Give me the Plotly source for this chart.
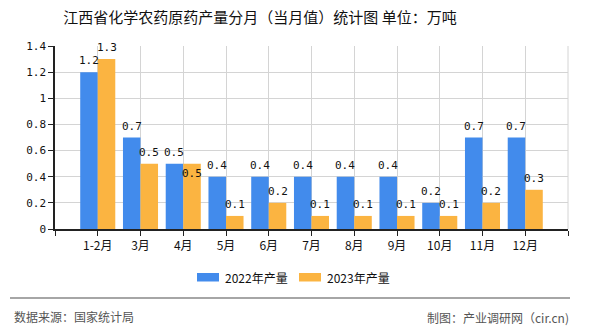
import plotly.graph_objects as go

categories = ["1-2月", "3月", "4月", "5月", "6月", "7月", "8月", "9月", "10月", "11月", "12月"]
series_names = ["2022年产量", "2023年产量"]
values_2022 = [1.2, 0.7, 0.5, 0.4, 0.4, 0.4, 0.4, 0.4, 0.2, 0.7, 0.7]
values_2023 = [1.3, 0.5, 0.5, 0.1, 0.2, 0.1, 0.1, 0.1, 0.1, 0.2, 0.3]
y_ticks = [0, 0.2, 0.4, 0.6, 0.8, 1, 1.2, 1.4]
y_ticktext = ["0", "0.2", "0.4", "0.6", "0.8", "1", "1.2", "1.4"]
title_text = "江西省化学农药原药产量分月（当月值）统计图 单位：万吨"
source_text = "数据来源：国家统计局"
credit_text = "制图：产业调研网（cir.cn)"

W, H = 590, 330
L, R, T, B = 55, 568, 46, 229

def px_x(px):
    return (px - L) / (R - L)

def px_y(py):
    return (B - py) / (B - T)

BLUE = "#428BEC"
ORANGE = "#FBB441"
CJK = "Noto Sans CJK SC"
MONO = "DejaVu Sans Mono"

n = len(categories)
xs = list(range(n))

fig = go.Figure()
fig.add_trace(go.Bar(x=xs, y=values_2022, name=series_names[0], marker_color=BLUE,
                     marker_line_width=0, showlegend=False))
fig.add_trace(go.Bar(x=xs, y=values_2023, name=series_names[1], marker_color=ORANGE,
                     marker_line_width=0, showlegend=False))

half = 0.41 / 2
annotations = []
for i in xs:
    annotations.append(dict(x=i - half, y=values_2022[i], xref="x", yref="y",
                            text=str(values_2022[i]), showarrow=False,
                            yanchor="bottom", yshift=3,
                            font=dict(family=MONO, size=11, color="#111")))
    inside = values_2023[i] == values_2022[i]
    annotations.append(dict(x=i + half, y=values_2023[i], xref="x", yref="y",
                            text=str(values_2023[i]), showarrow=False,
                            yanchor="top" if inside else "bottom",
                            yshift=-1 if inside else 3,
                            font=dict(family=MONO, size=11, color="#111")))

annotations.append(dict(x=px_x(12), y=px_y(316), xref="paper", yref="paper",
                        text=source_text, showarrow=False, xanchor="left", yanchor="middle",
                        font=dict(family=CJK, size=12, color="#555")))
annotations.append(dict(x=px_x(571), y=px_y(317), xref="paper", yref="paper",
                        text=credit_text, showarrow=False, xanchor="right", yanchor="middle",
                        font=dict(family=CJK, size=12, color="#555")))

shapes = [
    dict(type="line", xref="paper", yref="paper", x0=px_x(10), x1=px_x(570),
         y0=px_y(298), y1=px_y(298), line=dict(color="#888", width=1.5)),
    dict(type="line", xref="paper", yref="paper", x0=1, x1=1, y0=0, y1=1,
         line=dict(color="#d4d4d4", width=1)),
]

# legend (drawn manually to get the wide rectangular keys)
legend_colors = [BLUE, ORANGE]
legend_x = [197, 299]
for name, col, lx in zip(series_names, legend_colors, legend_x):
    shapes.append(dict(type="rect", xref="paper", yref="paper",
                       x0=px_x(lx), x1=px_x(lx + 22), y0=px_y(281.5), y1=px_y(273),
                       fillcolor=col, line=dict(width=0)))
    annotations.append(dict(x=px_x(lx + 26), y=px_y(277), xref="paper", yref="paper",
                            text=name, showarrow=False, xanchor="left", yanchor="middle",
                            font=dict(family=CJK, size=12, color="#111")))

fig.update_layout(
    width=W, height=H,
    margin=dict(l=L, r=W - R, t=T, b=H - B, pad=0),
    paper_bgcolor="white", plot_bgcolor="white",
    barmode="group", bargap=0.18, bargroupgap=0,
    showlegend=False,
    title=dict(text=title_text, x=260 / W, xref="container", xanchor="center",
               y=1 - 18 / H, yref="container", yanchor="middle",
               font=dict(family=CJK, size=15, color="#111")),
    xaxis=dict(range=[-1, n], tickmode="array", tickvals=list(range(-1, n + 1)),
               ticktext=[""] + categories + [""], showgrid=True, gridcolor="#d4d4d4",
               gridwidth=1, showline=True, linecolor="#222", linewidth=1.5,
               ticks="outside", ticklen=5, tickcolor="#222", zeroline=False,
               tickfont=dict(family=CJK, size=12, color="#111")),
    yaxis=dict(range=[0, 1.4], tickmode="array", tickvals=y_ticks, ticktext=y_ticktext,
               showgrid=True, gridcolor="#d4d4d4", gridwidth=1, showline=True,
               linecolor="#222", linewidth=1.5, ticks="outside", ticklen=5,
               tickcolor="#222", zeroline=False,
               tickfont=dict(family=MONO, size=11, color="#111")),
    annotations=annotations,
    shapes=shapes,
)

fig.write_html("out.html")
